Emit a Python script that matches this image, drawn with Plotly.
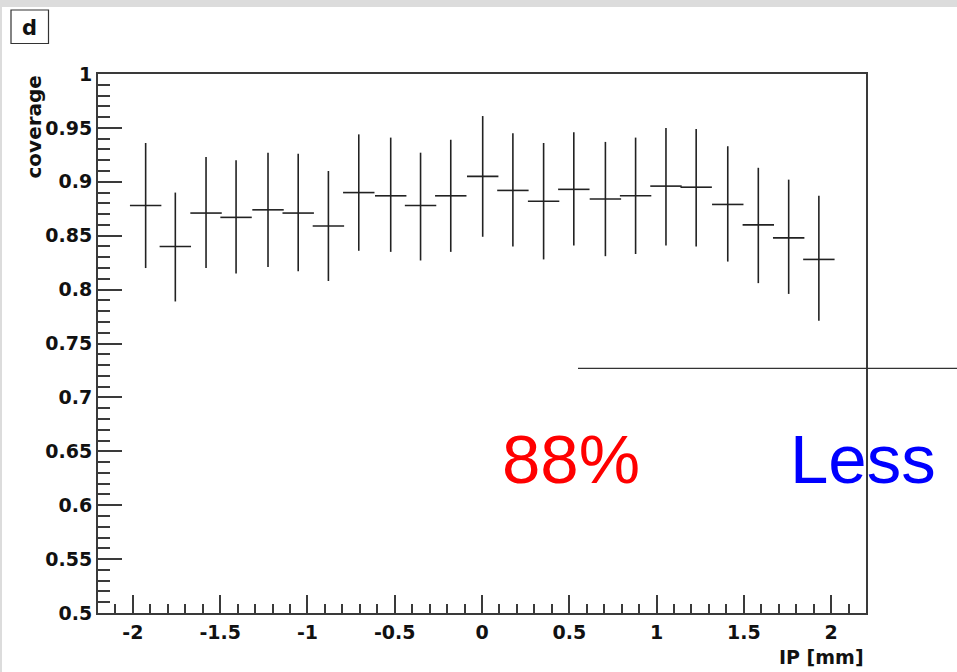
import plotly.graph_objects as go

# ---- data ----
ip_mm = [-1.927, -1.757, -1.581, -1.409, -1.226, -1.053, -0.880, -0.706, -0.523, -0.352, -0.179,
         0.004, 0.177, 0.353, 0.526, 0.707, 0.880, 1.054, 1.227, 1.408, 1.583, 1.757, 1.930]
coverage = [0.878, 0.840, 0.871, 0.867, 0.874, 0.871, 0.859, 0.890, 0.887, 0.878, 0.887,
            0.905, 0.892, 0.882, 0.893, 0.884, 0.887, 0.896, 0.895, 0.879, 0.860, 0.848, 0.828]
cov_hi = [0.936, 0.890, 0.923, 0.920, 0.927, 0.926, 0.910, 0.944, 0.941, 0.927, 0.939,
          0.961, 0.945, 0.936, 0.946, 0.937, 0.941, 0.950, 0.949, 0.933, 0.913, 0.902, 0.887]
cov_lo = [0.820, 0.789, 0.820, 0.815, 0.821, 0.817, 0.808, 0.836, 0.835, 0.827, 0.835,
          0.849, 0.840, 0.828, 0.841, 0.831, 0.833, 0.841, 0.840, 0.826, 0.806, 0.796, 0.771]
bin_half_width = 0.09

x_tickvals = [-2, -1.5, -1, -0.5, 0, 0.5, 1, 1.5, 2]
x_ticktext = ["-2", "-1.5", "-1", "-0.5", "0", "0.5", "1", "1.5", "2"]
y_tickvals = [0.5, 0.55, 0.6, 0.65, 0.7, 0.75, 0.8, 0.85, 0.9, 0.95, 1.0]
y_ticktext = ["0.5", "0.55", "0.6", "0.65", "0.7", "0.75", "0.8", "0.85", "0.9", "0.95", "1"]

err_plus = [h - c for h, c in zip(cov_hi, coverage)]
err_minus = [c - l for c, l in zip(coverage, cov_lo)]

W, H = 957, 672
L, R, T, B = 98, 91, 74, 59
pw, ph = W - L - R, H - T - B

def px(xp):
    return (xp - L) / pw

def py(yp):
    return (H - B - yp) / ph

line_col = "#3a3a3a"

fig = go.Figure()
fig.add_trace(go.Scatter(
    x=ip_mm, y=coverage, mode="markers",
    marker=dict(size=1, color="rgba(0,0,0,0)"),
    error_y=dict(type="data", symmetric=False, array=err_plus, arrayminus=err_minus,
                 width=0, thickness=1.6, color="#222222"),
    error_x=dict(type="constant", value=bin_half_width, width=0, thickness=1.6, color="#222222"),
    showlegend=False, hoverinfo="skip",
))

axis_font = dict(family="DejaVu Sans", size=19, color="#111111", weight="bold")

fig.update_layout(
    width=W, height=H, autosize=False,
    margin=dict(l=L, r=R, t=T, b=B, pad=0),
    paper_bgcolor="white", plot_bgcolor="white",
    xaxis=dict(range=[-2.2, 2.2], tickmode="array", tickvals=x_tickvals, ticktext=x_ticktext,
               ticks="inside", ticklen=18, tickwidth=1.5, tickcolor=line_col,
               minor=dict(tickmode="linear", tick0=0, dtick=0.1, ticks="inside", ticklen=9,
                          tickwidth=1.5, tickcolor=line_col, showgrid=False),
               showline=True, linecolor=line_col, linewidth=2, mirror=True,
               showgrid=False, zeroline=False, tickfont=axis_font, ticklabelstandoff=1),
    yaxis=dict(range=[0.5, 1.0], tickmode="array", tickvals=y_tickvals, ticktext=y_ticktext,
               ticks="inside", ticklen=24, tickwidth=1.5, tickcolor=line_col,
               minor=dict(tickmode="linear", tick0=0, dtick=0.01, ticks="inside", ticklen=12,
                          tickwidth=1.5, tickcolor=line_col, showgrid=False),
               showline=True, linecolor=line_col, linewidth=2, mirror=True,
               showgrid=False, zeroline=False, tickfont=axis_font, ticklabelstandoff=0),
)

shapes = [
    # grey window strips
    dict(type="rect", xref="paper", yref="paper", x0=px(0), x1=px(W), y0=py(7), y1=py(0),
         fillcolor="#dcdcdc", line=dict(width=0), layer="below"),
    dict(type="rect", xref="paper", yref="paper", x0=px(0), x1=px(2), y0=py(H), y1=py(7),
         fillcolor="#dcdcdc", line=dict(width=0), layer="below"),
    # pad label box
    dict(type="rect", xref="paper", yref="paper", x0=px(11), x1=px(48.5), y0=py(43.5), y1=py(10),
         fillcolor="white", line=dict(color="#333333", width=1.2)),
    # horizontal line
    dict(type="line", xref="paper", yref="paper", x0=px(578), x1=px(W), y0=py(368.3), y1=py(368.3),
         line=dict(color="#333333", width=1.2)),
]
fig.update_layout(shapes=shapes)

ann = [
    dict(text="d", x=px(29.5), y=py(28), xref="paper", yref="paper", showarrow=False,
         xanchor="center", yanchor="middle",
         font=dict(family="DejaVu Sans", size=21, color="#111111", weight="bold")),
    dict(text="coverage", x=px(33), y=1.0, xref="paper", yref="paper", showarrow=False,
         textangle=-90, xanchor="center", yanchor="top",
         font=dict(family="DejaVu Sans", size=20, color="#111111", weight="bold")),
    dict(text="IP [mm]", x=px(866), y=py(657), xref="paper", yref="paper", showarrow=False,
         xanchor="right", yanchor="middle",
         font=dict(family="DejaVu Sans", size=19, color="#111111", weight="bold")),
    dict(text="88%", x=px(500), y=py(459), xref="paper", yref="paper", showarrow=False,
         xanchor="left", yanchor="middle",
         font=dict(family="Liberation Sans", size=69, color="red")),
    dict(text="Less", x=px(788), y=py(459), xref="paper", yref="paper", showarrow=False,
         xanchor="left", yanchor="middle",
         font=dict(family="Liberation Sans", size=69, color="blue")),
]
fig.update_layout(annotations=ann)

fig.write_html("out.html")
